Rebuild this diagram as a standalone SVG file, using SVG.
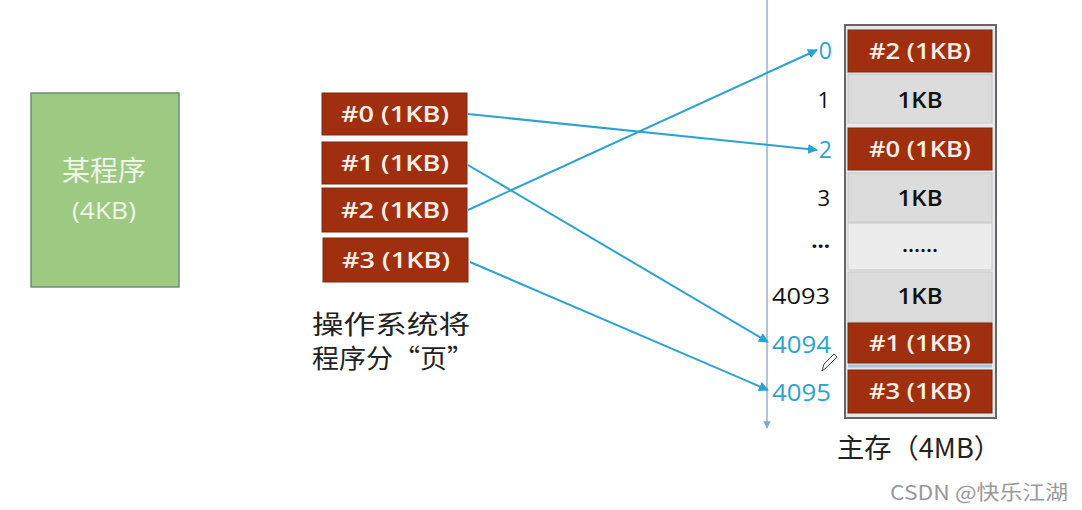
<svg xmlns="http://www.w3.org/2000/svg" width="1082" height="510" viewBox="0 0 1082 510">
<style>
.page{fill:#9f2f0f;stroke:#7a2a14;stroke-width:1}
.pt{font-family:"Open Sans","Liberation Sans",sans-serif;font-size:22px;font-weight:600;fill:#fbefe6;text-anchor:middle}
.cell{fill:#dcdcdc;stroke:#c8c8c8;stroke-width:1}
.ct{font-family:"Open Sans","Liberation Sans",sans-serif;font-size:22px;font-weight:600;fill:#111;text-anchor:middle}
.lb{font-family:"Open Sans","Liberation Sans",sans-serif;font-size:22px;fill:#111;text-anchor:end}
.lbb{font-family:"Open Sans","Liberation Sans",sans-serif;font-size:23px;fill:#29a3d3;text-anchor:end}
.cn{font-family:"Noto Sans CJK SC","Noto Sans",sans-serif}
.arr{stroke:#2aa3d2;stroke-width:2;fill:none;marker-end:url(#ah)}
</style>
<defs>
<marker id="ah" viewBox="0 0 10 10" refX="9" refY="5" markerWidth="5" markerHeight="5" orient="auto">
<path d="M0,0 L10,5 L0,10 z" fill="#2aa3d2"/>
</marker>
<marker id="ah2" viewBox="0 0 10 10" refX="9" refY="5" markerWidth="5" markerHeight="5" orient="auto">
<path d="M0,0 L10,5 L0,10 z" fill="#7fa9d0"/>
</marker>
</defs>
<rect width="1082" height="510" fill="#ffffff"/>

<g id="program">
<rect x="31" y="93" width="148" height="194" fill="#9dc983" stroke="#6f8e72" stroke-width="1.5"/>
<text x="104" y="181" class="cn" font-size="28" fill="#eef6e6" text-anchor="middle">某程序</text>
<text x="104" y="219" font-family="'Open Sans','Liberation Sans',sans-serif" font-size="23" fill="#eef6e6" text-anchor="middle" textLength="64" lengthAdjust="spacingAndGlyphs">(4KB)</text>
</g>

<g id="page0"><rect class="page" x="322" y="93" width="145" height="42"/><text class="pt" x="395" y="122" textLength="108" lengthAdjust="spacingAndGlyphs">#0 (1KB)</text></g>
<g id="page1"><rect class="page" x="322" y="142" width="145" height="42"/><text class="pt" x="395" y="171" textLength="108" lengthAdjust="spacingAndGlyphs">#1 (1KB)</text></g>
<g id="page2"><rect class="page" x="322" y="188" width="145" height="44"/><text class="pt" x="395" y="218" textLength="108" lengthAdjust="spacingAndGlyphs">#2 (1KB)</text></g>
<g id="page3"><rect class="page" x="323" y="238" width="145" height="44"/><text class="pt" x="396" y="268" textLength="108" lengthAdjust="spacingAndGlyphs">#3 (1KB)</text></g>

<g id="caption">
<text x="312" y="334" class="cn" font-size="26" fill="#222" textLength="158" lengthAdjust="spacingAndGlyphs">操作系统将</text>
<text x="312" y="368" class="cn" font-size="26" fill="#222" textLength="162" lengthAdjust="spacingAndGlyphs">程序分“页”</text>
</g>

<g id="axis">
<line x1="767" y1="0" x2="767" y2="428" stroke="#8fb6d8" stroke-width="1.5" marker-end="url(#ah2)"/>
</g>

<g id="memory">
<rect x="845" y="25" width="151" height="393" fill="#e6e8ea" stroke="#666" stroke-width="2"/>
<rect class="page" x="848" y="30" width="144" height="42"/><text class="pt" x="920" y="59" textLength="102" lengthAdjust="spacingAndGlyphs">#2 (1KB)</text>
<rect class="cell" x="848" y="74" width="144" height="49"/><text class="ct" x="920" y="108" textLength="45" lengthAdjust="spacingAndGlyphs">1KB</text>
<rect class="page" x="848" y="128" width="144" height="42"/><text class="pt" x="920" y="157" textLength="102" lengthAdjust="spacingAndGlyphs">#0 (1KB)</text>
<rect class="cell" x="848" y="173" width="144" height="49"/><text class="ct" x="920" y="206" textLength="45" lengthAdjust="spacingAndGlyphs">1KB</text>
<rect x="848" y="223" width="144" height="47" fill="#ececec" stroke="#c8c8c8" stroke-width="1"/><text class="ct" x="920" y="252" textLength="36" lengthAdjust="spacing">......</text>
<rect class="cell" x="848" y="272" width="144" height="50"/><text class="ct" x="920" y="304" textLength="45" lengthAdjust="spacingAndGlyphs">1KB</text>
<rect class="page" x="848" y="323" width="144" height="40"/><text class="pt" x="920" y="351" textLength="102" lengthAdjust="spacingAndGlyphs">#1 (1KB)</text>
<line x1="848" y1="366" x2="992" y2="366" stroke="#a9c4da" stroke-width="3"/>
<rect class="page" x="848" y="370" width="144" height="43"/><text class="pt" x="920" y="399" textLength="102" lengthAdjust="spacingAndGlyphs">#3 (1KB)</text>
</g>

<g id="labels">
<text class="lbb" x="832" y="59">0</text>
<text class="lb" x="830" y="108">1</text>
<text class="lbb" x="832" y="158">2</text>
<text class="lb" x="830" y="206">3</text>
<text class="lb" x="830" y="254" font-weight="700">···</text>
<text class="lb" x="830" y="304" textLength="58" lengthAdjust="spacingAndGlyphs">4093</text>
<text class="lbb" x="831" y="353" textLength="59" lengthAdjust="spacingAndGlyphs">4094</text>
<text class="lbb" x="831" y="401" textLength="59" lengthAdjust="spacingAndGlyphs">4095</text>
</g>

<g id="connectors">
<line class="arr" x1="468" y1="114" x2="817" y2="150"/>
<line class="arr" x1="468" y1="210" x2="817" y2="50"/>
<line class="arr" x1="468" y1="165" x2="768" y2="342"/>
<line class="arr" x1="470" y1="262" x2="768" y2="390"/>
</g>

<g id="pencil">
<path d="M822,371 L824,364 L834,354 L837,357 L827,367 Z" fill="#fff" stroke="#444" stroke-width="1"/>
</g>

<g id="title">
<text x="837" y="458" class="cn" font-size="27" fill="#222" textLength="164" lengthAdjust="spacingAndGlyphs">主存（4MB）</text>
</g>
<text x="890" y="500" class="cn" font-size="20" fill="#9a9a9a" textLength="178" lengthAdjust="spacingAndGlyphs">CSDN @快乐江湖</text>
</svg>
